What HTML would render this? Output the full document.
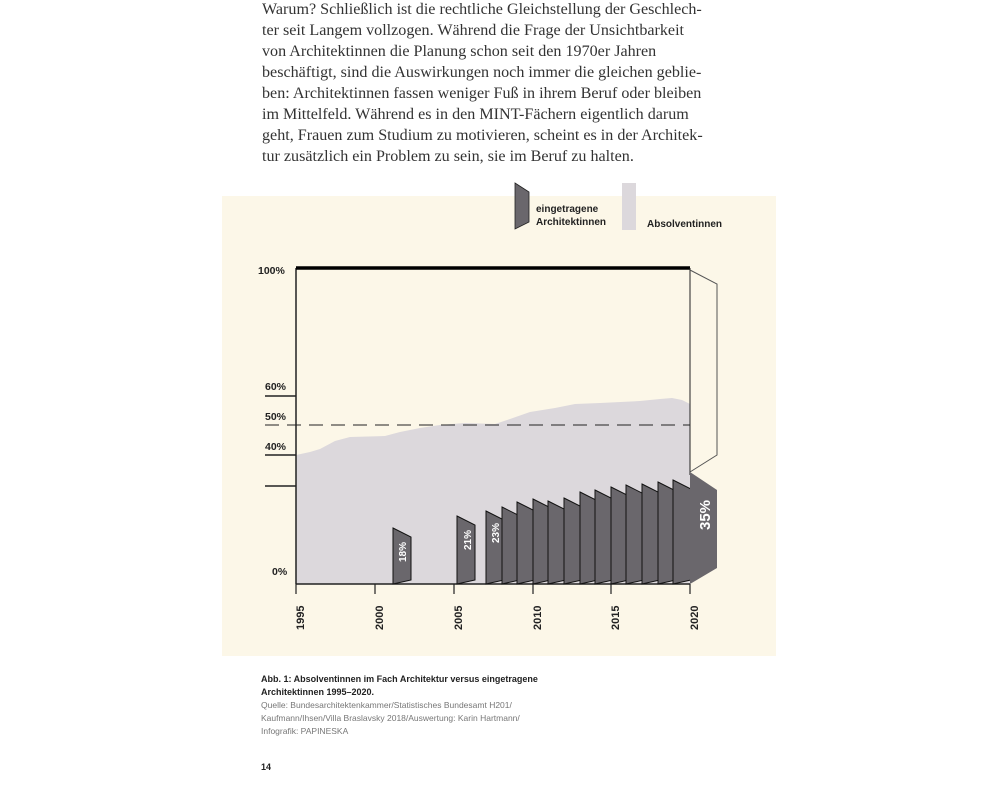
<!DOCTYPE html>
<html><head><meta charset="utf-8"><style>
body{margin:0;background:#fff;}
</style></head><body>
<svg width="1000" height="800" viewBox="0 0 1000 800" xmlns="http://www.w3.org/2000/svg">
<g font-family="Liberation Serif, serif" font-size="16.1" fill="#333">
<text x="262" y="14">Warum? Schließlich ist die rechtliche Gleichstellung der Geschlech-</text>
<text x="262" y="35">ter seit Langem vollzogen. Während die Frage der Unsichtbarkeit</text>
<text x="262" y="56">von Architektinnen die Planung schon seit den 1970er Jahren</text>
<text x="262" y="77">beschäftigt, sind die Auswirkungen noch immer die gleichen geblie-</text>
<text x="262" y="98">ben: Architektinnen fassen weniger Fuß in ihrem Beruf oder bleiben</text>
<text x="262" y="119">im Mittelfeld. Während es in den MINT-Fächern eigentlich darum</text>
<text x="262" y="140">geht, Frauen zum Studium zu motivieren, scheint es in der Architek-</text>
<text x="262" y="161">tur zusätzlich ein Problem zu sein, sie im Beruf zu halten.</text>
</g>
<rect x="222" y="196" width="554" height="460" fill="#fcf7e8"/>
<polygon points="515,183 529,192 529,222 515,229" fill="#6a676c" stroke="#222" stroke-width="0.8"/>
<rect x="622" y="183" width="14" height="47" fill="#dcd8dc"/>
<g font-family="Liberation Sans, sans-serif" font-size="10" font-weight="bold" fill="#222">
<text x="536" y="212">eingetragene</text>
<text x="536" y="225">Architektinnen</text>
<text x="647" y="227">Absolventinnen</text>
</g>
<path d="M296,455 L310,452 L320,449 L335,441 L350,437 L385,436 L400,432 L420,428 L440,425 L465,423 L495,424 L510,419 L530,412 L555,408 L575,404 L600,403 L640,401 L660,399 L672,398 L682,400 L690,404 L690,584 L296,584 Z" fill="#dcd8dc"/>
<line x1="296" y1="268" x2="296" y2="584" stroke="#222" stroke-width="1.5"/>
<line x1="296" y1="268" x2="690" y2="268" stroke="#000" stroke-width="3.5"/>
<line x1="690" y1="268" x2="690" y2="475" stroke="#222" stroke-width="1"/>
<polyline points="690,270 717,284 717,455 690,472" fill="none" stroke="#555" stroke-width="1"/>
<line x1="265" y1="396" x2="296" y2="396" stroke="#222" stroke-width="1.5"/>
<line x1="265" y1="425" x2="690" y2="425" stroke="#222" stroke-width="1" stroke-dasharray="14,8"/>
<line x1="265" y1="455" x2="296" y2="455" stroke="#222" stroke-width="1.5"/>
<line x1="265" y1="486" x2="296" y2="486" stroke="#222" stroke-width="1.5"/>
<line x1="296" y1="584" x2="690" y2="584" stroke="#222" stroke-width="1.5"/>
<g font-family="Liberation Sans, sans-serif" font-size="10.5" font-weight="bold" fill="#222">
<text x="258" y="274">100%</text>
<text x="265" y="390">60%</text>
<text x="265" y="420">50%</text>
<text x="265" y="450">40%</text>
<text x="272" y="575">0%</text>
</g>
<g stroke="#222" stroke-width="1.2">
<line x1="296" y1="584" x2="296" y2="594"/><line x1="375" y1="584" x2="375" y2="594"/>
<line x1="454" y1="584" x2="454" y2="594"/><line x1="533" y1="584" x2="533" y2="594"/>
<line x1="611" y1="584" x2="611" y2="594"/><line x1="690" y1="584" x2="690" y2="594"/>
</g>
<g font-family="Liberation Sans, sans-serif" font-size="11" font-weight="bold" fill="#222">
<text transform="translate(304,630) rotate(-90)">1995</text>
<text transform="translate(383,630) rotate(-90)">2000</text>
<text transform="translate(462,630) rotate(-90)">2005</text>
<text transform="translate(541,630) rotate(-90)">2010</text>
<text transform="translate(619,630) rotate(-90)">2015</text>
<text transform="translate(698,630) rotate(-90)">2020</text>
</g>
<g fill="#6a676c" stroke="#111" stroke-width="1">
<polygon points="393,528 411,537 411,580 393,584"/>
<polygon points="457,516 475,525 475,580 457,584"/>
<polygon points="486,511 504,520 504,580 486,584"/>
<polygon points="502,507 520,516 520,580 502,584"/>
<polygon points="517,502 535,511 535,580 517,584"/>
<polygon points="533,499 551,508 551,580 533,584"/>
<polygon points="548,501 566,510 566,580 548,584"/>
<polygon points="564,498 582,507 582,580 564,584"/>
<polygon points="580,492 598,501 598,580 580,584"/>
<polygon points="595,490 613,499 613,580 595,584"/>
<polygon points="611,487 629,496 629,580 611,584"/>
<polygon points="626,485 644,494 644,580 626,584"/>
<polygon points="642,484 660,493 660,580 642,584"/>
<polygon points="658,482 676,491 676,580 658,584"/>
<polygon points="673,480 691,489 691,580 673,584"/>
</g>
<polygon points="690,472 717,490 717,568 690,584" fill="#6a676c"/>
<g font-family="Liberation Sans, sans-serif" font-weight="bold" fill="#fff">
<text transform="translate(406,562) rotate(-90)" font-size="10">18%</text>
<text transform="translate(471,550) rotate(-90)" font-size="10">21%</text>
<text transform="translate(499,543) rotate(-90)" font-size="10">23%</text>
<text transform="translate(710,530) rotate(-90)" font-size="15">35%</text>
</g>
<g font-family="Liberation Sans, sans-serif" fill="#222">
<text x="261" y="682" font-size="9" font-weight="bold">Abb. 1: Absolventinnen im Fach Architektur versus eingetragene</text>
<text x="261" y="695" font-size="9" font-weight="bold">Architektinnen 1995–2020.</text>
<text x="261" y="708" font-size="8.5" fill="#777">Quelle: Bundesarchitektenkammer/Statistisches Bundesamt H201/</text>
<text x="261" y="721" font-size="8.5" fill="#777">Kaufmann/Ihsen/Villa Braslavsky 2018/Auswertung: Karin Hartmann/</text>
<text x="261" y="734" font-size="8.5" fill="#777">Infografik: PAPINESKA</text>
<text x="261" y="770" font-size="9" font-weight="bold">14</text>
</g>
</svg>
</body></html>
